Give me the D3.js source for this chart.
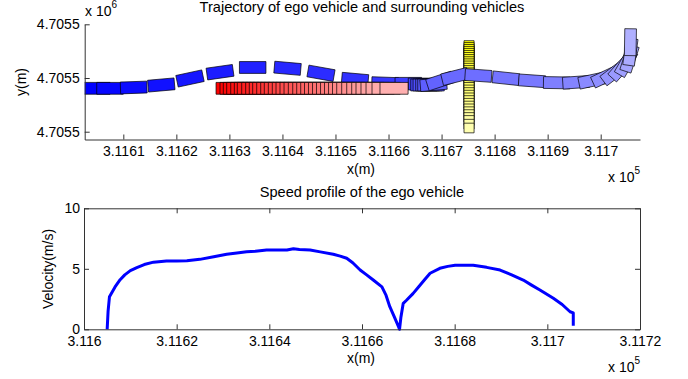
<!DOCTYPE html>
<html>
<head>
<meta charset="utf-8">
<script src="https://cdn.jsdelivr.net/npm/d3@7"></script>
<style>
body { margin: 0; background: #fff; }
svg text { font-family: "Liberation Sans", Arial, sans-serif; fill: #000; }
</style>
</head>
<body>
<svg id="chart" width="688" height="379"></svg>
<script>
// local origin for the trajectory offsets below (metres)
var x_origin = 311600;
var y_origin = 4705500;

// ego vehicle: centre offsets (m) and heading (deg), one pose per sample
var ego_x = [5.00, 7.49, 11.96, 17.16, 22.57, 28.23, 34.39, 40.96, 47.27, 53.68,
             59.34, 63.73, 66.22, 66.69, 67.12, 67.63, 68.01, 68.48, 69.71, 72.53,
             76.93, 82.11, 87.05, 91.71, 95.35, 98.36, 100.82, 102.51, 103.83, 104.78,
             105.43, 105.60, 105.60];
var ego_y = [38.08, 38.08, 38.23, 38.70, 39.91, 41.08, 41.96, 41.81, 40.88, 39.74,
             39.05, 39.01, 38.88, 38.70, 38.70, 38.70, 38.70, 38.79, 39.44, 40.28,
             40.47, 39.96, 39.48, 39.12, 39.20, 39.53, 40.19, 40.93, 41.86, 42.79,
             43.63, 44.84, 46.67];
var ego_heading = [0, 0, 2, 5, 12, 8, 0, -5, -10, -5,
                   -2, 0, 0, 0, 0, 0, 0, 5, 18, 14,
                   -4, -6, -4, -1, 4, 12, 25, 37, 48, 60,
                   72, 82, 89];

// red vehicle, driving along the lane
var red_x = [30.13, 30.88, 31.50, 32.14, 32.90, 33.58, 34.14, 34.97, 35.72, 36.40,
             37.04, 37.80, 38.55, 39.23, 39.99, 40.74, 41.44, 42.19, 42.95, 43.76,
             44.59, 45.34, 46.09, 46.81, 47.56, 48.32, 49.07, 49.83, 50.58, 51.34,
             52.09, 52.88, 53.82, 54.77, 55.71, 56.52, 57.46, 58.41, 59.54, 61.04];
var red_y = 38.08;

// yellow object crossing downwards
var yellow_x = 75.18;
var yellow_y = [46.05, 45.70, 45.34, 44.98, 44.61, 44.23, 43.85, 43.46, 43.06, 42.66,
                42.25, 41.83, 41.41, 40.98, 40.54, 40.10, 39.65, 39.19, 38.73, 38.26,
                37.78, 37.30, 36.81, 36.31, 35.81, 35.30, 34.78, 34.26, 33.73, 33.19,
                32.65, 32.10, 31.40, 30.69];

// speed profile of the ego vehicle
var speed_x = [311605.0, 311605.2, 311605.5, 311606.7, 311607.8, 311608.8, 311610.0, 311611.4, 311613.0, 311615.0,
               311617.8, 311620.0, 311622.2, 311625.0, 311628.0, 311630.8, 311633.0, 311635.1, 311637.0, 311639.4,
               311643.8, 311645.2, 311646.5, 311648.8, 311651.0, 311653.8, 311655.3, 311656.7, 311658.0, 311659.6,
               311661.0, 311662.5, 311664.3, 311665.2, 311666.0, 311667.0, 311667.9, 311668.1, 311668.4, 311668.9,
               311669.6, 311671.0, 311672.2, 311673.5, 311674.7, 311676.8, 311678.5, 311680.1, 311682.0, 311684.0,
               311686.9, 311689.8, 311692.3, 311694.8, 311696.6, 311698.4, 311701.3, 311703.2, 311704.9, 311705.6,
               311705.6];
var speed_v = [0, 1.5, 2.7, 3.5, 4.1, 4.5, 4.85, 5.1, 5.35, 5.55,
               5.65, 5.65, 5.67, 5.78, 6.0, 6.2, 6.3, 6.4, 6.45, 6.55,
               6.55, 6.66, 6.6, 6.55, 6.4, 6.2, 6.05, 5.87, 5.5, 4.9,
               4.5, 4.05, 3.5, 2.8, 1.87, 1.0, 0.2, 0, 1.0, 2.15,
               2.4, 2.95, 3.5, 4.1, 4.63, 5.04, 5.2, 5.29, 5.3, 5.29,
               5.12, 4.9, 4.5, 4.07, 3.65, 3.25, 2.56, 2.05, 1.45, 1.35,
               0.3];

// axes
var traj_x_lim = [311602.72, 311707.41];
var traj_y_lim = [4705528.55, 4705550];
var traj_x_ticks = [311610, 311620, 311630, 311640, 311650, 311660, 311670, 311680, 311690, 311700];
var traj_x_labels = ["3.1161", "3.1162", "3.1163", "3.1164", "3.1165", "3.1166", "3.1167", "3.1168", "3.1169", "3.117"];
var traj_y_ticks = [4705530, 4705540, 4705550];
var traj_y_labels = ["4.7055", "4.7055", "4.7055"];
var speed_x_lim = [311600, 311720];
var speed_y_lim = [0, 10];
var speed_x_ticks = [311600, 311620, 311640, 311660, 311680, 311700, 311720];
var speed_x_labels = ["3.116", "3.1162", "3.1164", "3.1166", "3.1168", "3.117", "3.1172"];
var speed_y_ticks = [0, 5, 10];

var axis_color = "#333";
var svg = d3.select("#chart");

function shade(base, light, n){
    return function(i){ return d3.interpolateRgb(base, light)(n > 1 ? i / (n - 1) : 0); };
}

// corners of a box around (cx, cy), length along heading
function box(cx, cy, len, wid, deg){
    var a = deg * Math.PI / 180, c = Math.cos(a), s = Math.sin(a);
    return [[1, 1], [-1, 1], [-1, -1], [1, -1]].map(function(k){
        var dx = k[0] * len / 2, dy = k[1] * wid / 2;
        return [cx + dx * c - dy * s, cy + dx * s + dy * c];
    });
}

function style_axis(g){
    g.selectAll("path, line").attr("stroke", axis_color).attr("stroke-width", 1);
    g.selectAll("text").attr("font-size", 14).attr("fill", "#000")
        .attr("font-family", "'Liberation Sans', Arial, sans-serif");
}

function exponent(x0, y0, e){
    var t = svg.append("text").attr("x", x0).attr("y", y0).attr("font-size", 14);
    t.append("tspan").text("x 10");
    t.append("tspan").attr("dy", -8).attr("font-size", 10).text(e);
}

// ---------- top: trajectories ----------
var tx = d3.scaleLinear().domain(traj_x_lim).range([84.7, 640]);
var ty = d3.scaleLinear().domain(traj_y_lim).range([139.5, 24.3]);

svg.append("clipPath").attr("id", "traj-clip")
    .append("rect").attr("x", 84.7).attr("y", 0).attr("width", 640 - 84.7).attr("height", 139.5);

var marks = svg.append("g").attr("clip-path", "url(#traj-clip)");

function draw_boxes(poses, color){
    marks.append("g").selectAll("polygon")
        .data(poses)
        .join("polygon")
        .attr("points", function(p){
            return box(p.x, p.y, p.len, p.wid, p.deg).map(function(q){
                return [tx(x_origin + q[0]), ty(y_origin + q[1])].join(",");
            }).join(" ");
        })
        .attr("fill", function(p, i){ return color(i); })
        .attr("stroke", "#000")
        .attr("stroke-width", 0.7);
}

draw_boxes(yellow_y.map(function(y){
    return {x: yellow_x, y: y, len: 1.8, wid: 1.9, deg: -90};
}), shade("#ffff00", "#ffffb0", yellow_y.length));

draw_boxes(ego_x.map(function(x, i){
    return {x: x, y: ego_y[i], len: 5.0, wid: 2.2, deg: ego_heading[i]};
}), shade("#0000ff", "#b0b0ff", ego_x.length));

draw_boxes(red_x.map(function(x){
    return {x: x, y: red_y, len: 5.3, wid: 2.2, deg: 0};
}), shade("#ff0000", "#ffb0b0", red_x.length));

svg.append("g").attr("transform", "translate(0,139.5)")
    .call(d3.axisBottom(tx).tickValues(traj_x_ticks)
          .tickFormat(function(d, i){ return traj_x_labels[i]; })
          .tickSizeInner(-5).tickSizeOuter(0).tickPadding(7))
    .call(style_axis);

svg.append("g").attr("transform", "translate(84.7,0)")
    .call(d3.axisLeft(ty).tickValues(traj_y_ticks)
          .tickFormat(function(d, i){ return traj_y_labels[i]; })
          .tickSizeInner(-5).tickSizeOuter(0).tickPadding(5))
    .call(style_axis);

svg.append("text").attr("x", 362).attr("y", 11.5).attr("text-anchor", "middle")
    .attr("font-size", 14.6).text("Trajectory of ego vehicle and surrounding vehicles");
svg.append("text").attr("x", 361).attr("y", 174).attr("text-anchor", "middle")
    .attr("font-size", 14).text("x(m)");
svg.append("text").attr("transform", "translate(25.5,82) rotate(-90)")
    .attr("text-anchor", "middle").attr("font-size", 14).text("y(m)");
exponent(85, 15.5, "6");
exponent(608, 182, "5");

// ---------- bottom: speed profile ----------
var sx = d3.scaleLinear().domain(speed_x_lim).range([84, 640]);
var sy = d3.scaleLinear().domain(speed_y_lim).range([329.3, 208.3]);

svg.append("path")
    .datum(speed_x.map(function(x, i){ return [x, speed_v[i]]; }))
    .attr("d", d3.line().x(function(d){ return sx(d[0]); }).y(function(d){ return sy(d[1]); }))
    .attr("fill", "none")
    .attr("stroke", "#0000ff")
    .attr("stroke-width", 3)
    .attr("stroke-linejoin", "round");

svg.append("g").attr("transform", "translate(0,329.3)")
    .call(d3.axisBottom(sx).tickValues(speed_x_ticks)
          .tickFormat(function(d, i){ return speed_x_labels[i]; })
          .tickSizeInner(-5).tickSizeOuter(0).tickPadding(7))
    .call(style_axis);
svg.append("g").attr("transform", "translate(0,208.3)")
    .call(d3.axisTop(sx).tickValues(speed_x_ticks).tickFormat("")
          .tickSizeInner(-5).tickSizeOuter(0))
    .call(style_axis);
svg.append("g").attr("transform", "translate(84,0)")
    .call(d3.axisLeft(sy).tickValues(speed_y_ticks).tickFormat(d3.format("d"))
          .tickSizeInner(-5).tickSizeOuter(0).tickPadding(4))
    .call(style_axis);
svg.append("g").attr("transform", "translate(640,0)")
    .call(d3.axisRight(sy).tickValues(speed_y_ticks).tickFormat("")
          .tickSizeInner(-5).tickSizeOuter(0))
    .call(style_axis);

svg.append("text").attr("x", 362).attr("y", 197).attr("text-anchor", "middle")
    .attr("font-size", 14.6).text("Speed profile of the ego vehicle");
svg.append("text").attr("x", 361).attr("y", 362.5).attr("text-anchor", "middle")
    .attr("font-size", 14).text("x(m)");
svg.append("text").attr("transform", "translate(52.5,269) rotate(-90)")
    .attr("text-anchor", "middle").attr("font-size", 14).text("Velocity(m/s)");
exponent(608, 371.5, "5");
</script>
</body>
</html>
